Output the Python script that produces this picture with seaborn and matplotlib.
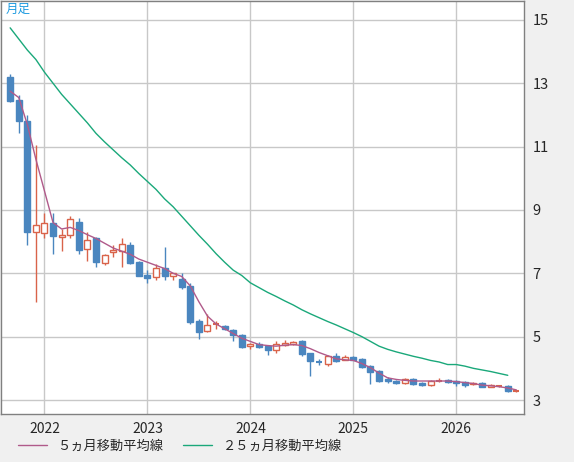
import numpy as np
import matplotlib
matplotlib.use("Agg")
import matplotlib.pyplot as plt
import seaborn as sns
from matplotlib.lines import Line2D

sns.set_style("white")
plt.rcParams['font.family'] = ['Noto Sans CJK JP', 'DejaVu Sans']

opens = [13.2,12.46,11.8,8.32,8.28,8.6,8.15,8.22,8.63,7.78,8.1,7.34,7.68,7.71,7.9,7.37,6.96,6.89,7.18,6.9,
         6.83,6.6,5.5,5.18,5.38,5.34,5.22,5.05,4.7,4.77,4.7,4.58,4.75,4.78,4.86,4.48,4.2,4.14,4.38,4.27,
         4.36,4.3,4.07,3.92,3.66,3.6,3.54,3.66,3.54,3.47,3.6,3.63,3.6,3.57,3.5,3.54,3.41,3.42,3.44,3.28]
closes = [12.45,11.8,8.32,8.54,8.6,8.19,8.2,8.7,7.75,8.06,7.37,7.59,7.74,7.94,7.34,6.92,6.86,7.18,6.9,7.0,
          6.58,5.47,5.15,5.37,5.4,5.25,5.06,4.68,4.77,4.68,4.58,4.77,4.8,4.83,4.45,4.23,4.17,4.38,4.23,4.36,
          4.27,4.05,3.88,3.6,3.6,3.54,3.66,3.5,3.47,3.6,3.63,3.57,3.54,3.47,3.54,3.42,3.47,3.44,3.28,3.29]
highs = [13.3,12.62,11.99,11.04,8.9,8.9,8.4,8.82,8.75,8.3,8.15,7.6,7.9,8.1,8.0,7.4,7.1,7.3,7.84,7.0,
         7.0,6.7,5.55,5.7,5.5,5.38,5.25,5.07,4.8,4.82,4.72,4.85,4.9,4.85,4.88,4.5,4.3,4.42,4.48,4.42,
         4.4,4.33,4.1,3.95,3.72,3.62,3.7,3.68,3.56,3.62,3.68,3.66,3.62,3.6,3.57,3.56,3.5,3.46,3.46,3.33]
lows = [12.4,11.42,7.9,6.1,8.1,7.62,7.7,8.1,7.62,7.4,7.2,7.25,7.5,7.2,7.3,6.9,6.7,6.8,6.8,6.8,
        6.5,5.4,4.93,5.15,5.25,5.22,4.85,4.65,4.6,4.65,4.42,4.5,4.72,4.75,4.4,3.77,4.1,4.08,4.2,4.25,
        4.25,4.0,3.5,3.58,3.55,3.5,3.5,3.48,3.44,3.44,3.58,3.55,3.45,3.42,3.48,3.4,3.4,3.4,3.26,3.24]
ma5 = [12.75,12.55,11.7,10.6,9.6,8.6,8.4,8.45,8.35,8.22,8.1,7.95,7.8,7.7,7.6,7.45,7.35,7.25,7.15,7.0,
       6.9,6.6,6.1,5.65,5.4,5.25,5.1,4.95,4.85,4.75,4.72,4.7,4.73,4.75,4.72,4.62,4.5,4.4,4.3,4.27,
       4.25,4.15,4.02,3.85,3.7,3.65,3.62,3.6,3.6,3.6,3.6,3.6,3.58,3.55,3.52,3.47,3.45,3.42,3.38,3.32]
ma25 = [14.75,14.4,14.05,13.75,13.35,13.0,12.65,12.35,12.05,11.75,11.42,11.15,10.9,10.65,10.42,10.15,9.9,9.65,9.35,9.1,
        8.8,8.5,8.2,7.92,7.62,7.35,7.1,6.93,6.7,6.55,6.4,6.27,6.13,6.0,5.85,5.72,5.6,5.48,5.37,5.25,
        5.13,5.0,4.85,4.7,4.6,4.52,4.45,4.38,4.32,4.25,4.2,4.12,4.12,4.07,4.0,3.95,3.9,3.84,3.78,np.nan]
year_labels = ["2022", "2023", "2024", "2025", "2026"]
year_pos = [4, 16, 28, 40, 52]
yticks = [3, 5, 7, 9, 11, 13, 15]

BLUE = "#4a86bf"; RED = "#d9634a"; GREEN = "#1aa87a"; PINK = "#b05a8a"

fig = plt.figure(figsize=(5.74, 4.62), dpi=100, facecolor="#f0f0f0")
ax = fig.add_axes([0.002, 0.104, 0.911, 0.894])
ax.set_facecolor("white")
x = np.arange(len(opens))
for sp in ax.spines.values():
    sp.set_color("#808080"); sp.set_linewidth(1)

ax.set_xlim(-1.05, 59.9)
ax.set_ylim(2.56, 15.6)
ax.set_yticks(yticks)
ax.set_xticks(year_pos)
ax.set_xticklabels(year_labels)
ax.grid(True, color="#c8c8c8", linewidth=1)
ax.set_axisbelow(True)
ax.yaxis.tick_right()
ax.tick_params(axis='y', length=0, labelsize=10.5, pad=6)
ax.tick_params(axis='x', length=0, labelsize=10, pad=6)

w = 0.7
for i in x:
    o, c, h, l = opens[i], closes[i], highs[i], lows[i]
    up = c >= o
    col = RED if up else BLUE
    ax.vlines(i, l, h, color=col, linewidth=1, zorder=2)
    lo, hi = min(o, c), max(o, c)
    if hi - lo < 0.04:
        ax.hlines((o + c) / 2, i - w / 2, i + w / 2, color=col, linewidth=1.5, zorder=3)
    else:
        ax.bar(i, hi - lo, bottom=lo, width=w, color="white" if up else col,
               edgecolor=col, linewidth=1, zorder=3)

ax.plot(x, ma25, color=GREEN, linewidth=1, zorder=4)
ax.plot(x, ma5, color=PINK, linewidth=1, zorder=4)

ax.text(0.008, 0.995, "月足", transform=ax.transAxes, ha="left", va="top",
        fontsize=9, color="#1e9be0")

handles = [Line2D([], [], color=PINK, linewidth=1), Line2D([], [], color=GREEN, linewidth=1)]
fig.legend(handles, ["５ヵ月移動平均線", "２５ヵ月移動平均線"], loc="lower left",
           bbox_to_anchor=(0.01, -0.005), ncol=2, frameon=False, fontsize=9.5,
           handlelength=2.2, columnspacing=1.5)

fig.savefig("out.png", dpi=100, facecolor=fig.get_facecolor())
